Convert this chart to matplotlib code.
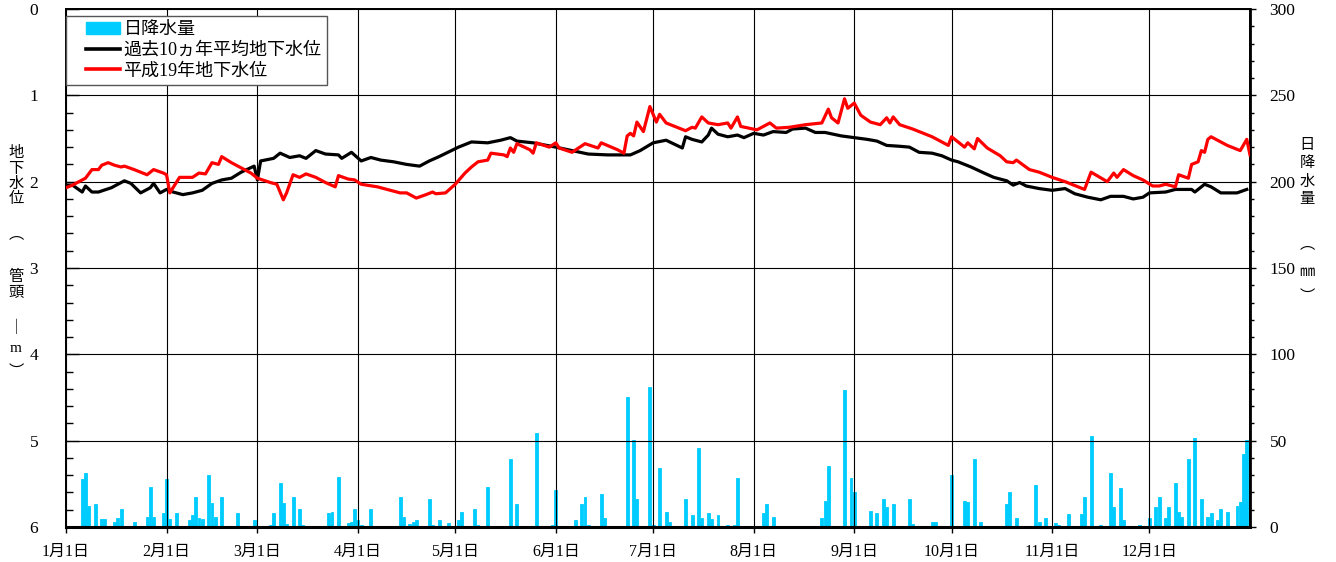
import matplotlib
matplotlib.use("Agg")
import matplotlib.pyplot as plt
from matplotlib.ticker import MultipleLocator
from matplotlib.patches import Patch
from matplotlib.lines import Line2D
from matplotlib.legend_handler import HandlerLine2D, HandlerPatch

FAM = ['Liberation Serif', 'Noto Sans CJK JP', 'DejaVu Sans']
plt.rcParams['font.family'] = FAM

# ---- data (day index from Jan 1 = 0) ----
month_days = [0, 31, 59, 90, 120, 151, 181, 212, 243, 273, 304, 334]
month_labels = ["1月1日", "2月1日", "3月1日", "4月1日", "5月1日", "6月1日",
                "7月1日", "8月1日", "9月1日", "10月1日", "11月1日", "12月1日"]

avg_days = [0, 2, 5, 6, 8, 10, 14, 18, 20, 23, 26, 27, 29, 31, 33, 36, 39, 42, 45, 48,
            51, 54, 58, 59, 60, 64, 66, 69, 72, 74, 77, 80, 84, 85, 88, 91, 94, 97, 101,
            105, 109, 112, 115, 121, 125, 130, 134, 137, 139, 144, 151, 156, 161, 167,
            172, 174, 177, 181, 185, 190, 191, 193, 196, 198, 199, 201, 204, 207, 209,
            212, 215, 218, 222, 224, 228, 231, 234, 239, 243, 247, 250, 253, 257, 260,
            263, 267, 270, 273, 275, 279, 283, 286, 290, 292, 294, 296, 300, 304, 308,
            311, 315, 319, 322, 326, 329, 332, 334, 339, 342, 347, 348, 351, 353, 356,
            361, 364]
avg_level = [2.04, 2.04, 2.12, 2.05, 2.12, 2.12, 2.07, 1.99, 2.02, 2.13, 2.07, 2.02, 2.13,
             2.09, 2.12, 2.15, 2.13, 2.10, 2.02, 1.98, 1.96, 1.89, 1.82, 1.98, 1.76, 1.73,
             1.67, 1.72, 1.70, 1.73, 1.64, 1.68, 1.69, 1.73, 1.66, 1.76, 1.72, 1.75, 1.77,
             1.80, 1.82, 1.76, 1.71, 1.60, 1.54, 1.55, 1.52, 1.49, 1.53, 1.55, 1.60, 1.64,
             1.68, 1.69, 1.69, 1.69, 1.64, 1.55, 1.52, 1.61, 1.48, 1.51, 1.54, 1.46, 1.38,
             1.45, 1.48, 1.46, 1.49, 1.44, 1.46, 1.42, 1.43, 1.39, 1.38, 1.43, 1.43, 1.47,
             1.49, 1.51, 1.53, 1.58, 1.59, 1.60, 1.66, 1.67, 1.70, 1.75, 1.77, 1.83, 1.90,
             1.95, 1.99, 2.04, 2.01, 2.05, 2.08, 2.10, 2.08, 2.14, 2.18, 2.21, 2.17, 2.17,
             2.20, 2.18, 2.13, 2.12, 2.09, 2.09, 2.12, 2.03, 2.06, 2.13, 2.13, 2.09]

h19_days = [0, 2, 4, 6, 8, 10, 11, 13, 15, 17, 18, 21, 25, 27, 30, 31, 32, 35, 39, 41,
            43, 45, 47, 48, 51, 53, 57, 59, 63, 65, 67, 68, 70, 72, 74, 77, 80, 83, 84,
            87, 89, 91, 96, 100, 103, 105, 108, 111, 113, 114, 117, 120, 123, 125, 127,
            130, 131, 135, 136, 137, 138, 139, 143, 144, 145, 149, 151, 152, 156, 160,
            164, 165, 170, 172, 173, 174, 175, 176, 178, 180, 182, 183, 185, 189, 191,
            193, 194, 196, 198, 201, 204, 205, 207, 208, 213, 217, 219, 223, 228, 233,
            235, 236, 238, 240, 241, 243, 245, 248, 249, 251, 253, 254, 255, 257, 261,
            263, 267, 270, 272, 273, 275, 277, 278, 280, 281, 284, 288, 290, 292, 293,
            297, 300, 304, 308, 312, 314, 316, 321, 323, 324, 326, 329, 332, 335, 337,
            339, 342, 343, 346, 347, 349, 350, 351, 352, 353, 358, 362, 364, 365]
h19_level = [2.07, 2.04, 2.00, 1.96, 1.86, 1.86, 1.81, 1.78, 1.81, 1.83, 1.82, 1.86, 1.92,
             1.86, 1.90, 1.92, 2.13, 1.95, 1.95, 1.90, 1.91, 1.78, 1.80, 1.71, 1.78, 1.82,
             1.90, 1.96, 2.01, 2.03, 2.21, 2.13, 1.92, 1.95, 1.91, 1.95, 2.01, 2.06, 1.93,
             1.97, 1.98, 2.03, 2.06, 2.10, 2.13, 2.13, 2.19, 2.15, 2.12, 2.14, 2.13, 2.03,
             1.90, 1.83, 1.77, 1.75, 1.67, 1.69, 1.71, 1.61, 1.66, 1.56, 1.63, 1.67, 1.55,
             1.60, 1.55, 1.61, 1.66, 1.56, 1.61, 1.55, 1.63, 1.67, 1.47, 1.44, 1.47, 1.31,
             1.42, 1.13, 1.31, 1.22, 1.32, 1.38, 1.41, 1.37, 1.38, 1.25, 1.32, 1.34, 1.32,
             1.38, 1.25, 1.36, 1.40, 1.32, 1.38, 1.37, 1.34, 1.32, 1.16, 1.26, 1.32, 1.04,
             1.15, 1.09, 1.23, 1.31, 1.32, 1.34, 1.26, 1.32, 1.25, 1.34, 1.39, 1.42, 1.48,
             1.54, 1.58, 1.48, 1.54, 1.60, 1.55, 1.62, 1.50, 1.61, 1.70, 1.77, 1.78, 1.75,
             1.86, 1.89, 1.95, 2.00, 2.06, 2.09, 1.89, 2.00, 1.90, 1.95, 1.86, 1.93, 1.98,
             2.05, 2.05, 2.03, 2.06, 1.92, 1.96, 1.80, 1.77, 1.64, 1.66, 1.51, 1.48, 1.58,
             1.64, 1.51, 1.69]

rain_days = [5, 6, 7, 9, 11, 12, 15, 16, 17, 21, 25, 26, 27, 30, 31, 32, 34, 38, 39, 40,
             41, 42, 44, 45, 46, 48, 53, 58, 63, 64, 66, 67, 68, 70, 72, 73, 81, 82, 84,
             87, 88, 89, 90, 91, 94, 103, 104, 106, 107, 108, 112, 113, 115, 118, 121,
             122, 126, 127, 130, 137, 139, 145, 150, 151, 157, 159, 160, 161, 165, 166,
             173, 175, 176, 180, 181, 183, 185, 186, 191, 193, 195, 196, 198, 199, 201,
             204, 206, 207, 215, 216, 218, 233, 234, 235, 240, 242, 243, 248, 250, 252,
             253, 255, 260, 261, 267, 268, 273, 277, 278, 280, 282, 290, 291, 293, 299,
             300, 302, 305, 306, 309, 313, 314, 316, 319, 322, 323, 325, 326, 331, 334,
             336, 337, 339, 340, 342, 343, 344, 346, 348, 350, 352, 353, 355, 356, 358,
             361, 362, 363, 364]
rain_mm = [27.6, 31.5, 12.3, 13.3, 4.4, 4.4, 3.1, 5.0, 10.2, 3.1, 6.0, 23.3, 6.0, 8.3,
           27.6, 4.4, 8.3, 4.0, 7.0, 17.2, 5.0, 4.4, 30.1, 14.1, 6.0, 17.2, 8.3, 4.0, 1.2,
           8.3, 25.3, 14.1, 1.7, 17.2, 10.2, 1.2, 8.3, 8.9, 29.1, 2.3, 3.1, 10.2, 4.0, 1.2,
           10.2, 17.2, 6.0, 1.7, 3.1, 4.0, 16.0, 1.2, 4.0, 2.3, 4.0, 8.9, 10.2, 1.2, 23.3,
           39.2, 13.3, 54.6, 1.2, 21.4, 4.0, 13.3, 17.2, 1.2, 19.1, 5.0, 75.1, 50.4, 16.0,
           81.3, 1.2, 34.4, 8.9, 3.1, 16.0, 7.0, 45.6, 5.0, 8.3, 4.4, 7.0, 1.2, 1.2, 28.6,
           8.3, 13.3, 6.0, 5.0, 15.2, 35.3, 79.3, 28.6, 20.5, 9.3, 8.3, 16.2, 11.6, 13.3,
           16.2, 1.7, 3.1, 3.1, 30.1, 15.2, 14.3, 39.2, 3.1, 13.3, 20.1, 5.0, 24.3, 3.1,
           5.0, 2.3, 1.2, 7.5, 7.5, 17.2, 52.7, 1.2, 31.5, 11.6, 22.4, 4.0, 1.2, 5.0, 11.6,
           17.2, 5.0, 11.6, 25.3, 8.9, 6.0, 39.2, 51.4, 16.2, 6.0, 8.3, 4.0, 10.2, 8.9,
           11.9, 14.3, 42.3, 50.4]

legend_labels = ["日降水量", "過去10ヵ年平均地下水位", "平成19年地下水位"]

# ---- figure ----
fig = plt.figure(figsize=(13.36, 5.62), dpi=100)
ax1 = fig.add_axes([66/1336, 35/562, 1184/1336, 518/562])
ax2 = ax1.twinx()

ax2.bar(rain_days, rain_mm, width=0.9, color='#00CCFF', edgecolor='#00CCFF',
        linewidth=0.6, zorder=2)
ax2.set_ylim(0, 300)

ax1.plot(avg_days, avg_level, color='black', lw=2.3, zorder=4)
ax1.plot(h19_days, h19_level, color='#FF0000', lw=2.3, zorder=5)
ax1.set_ylim(6, 0)
ax1.set_xlim(0, 365)
ax1.set_zorder(ax2.get_zorder() + 1)
ax1.patch.set_visible(False)

# ticks
ax1.set_xticks(month_days)
ax1.set_xticklabels(month_labels, fontsize=11.5)
ax1.tick_params(axis='x', direction='out', length=4, width=1, pad=8)
ax1.set_yticks(range(0, 7))
ax1.set_yticklabels([str(v) for v in range(0, 7)], fontsize=12.5)
ax1.yaxis.set_minor_locator(MultipleLocator(0.2))
ax1.tick_params(axis='y', which='major', direction='in', length=9, width=1, pad=20)
ax1.tick_params(axis='y', which='minor', direction='in', length=5, width=1)

ax2.set_yticks(range(0, 301, 50))
ax2.set_yticklabels([str(v) for v in range(0, 301, 50)], fontsize=12.5)
ax2.yaxis.set_minor_locator(MultipleLocator(10))
ax2.tick_params(axis='y', which='major', direction='out', length=4, width=1, pad=10)
ax2.tick_params(axis='y', which='minor', direction='out', length=3, width=1)

ax1.grid(True, which='major', axis='both', color='black', lw=0.8, zorder=1)

for ax in (ax1, ax2):
    for s in ax.spines.values():
        s.set_linewidth(1.3)
        s.set_color('black')
ax2.spines['bottom'].set_linewidth(2.2)
ax2.spines['right'].set_linewidth(2.0)

# legend
handles = [Patch(facecolor='#00CCFF', edgecolor='#00CCFF'),
           Line2D([], [], color='black', lw=2.6),
           Line2D([], [], color='#FF0000', lw=2.6)]
hmap = {Line2D: HandlerLine2D(xpad=0.78), Patch: HandlerPatch(xpad=0.78)}
leg = ax1.legend(handles, legend_labels, loc='upper left', handler_map=hmap,
                 bbox_to_anchor=(0.0, 1 - 7/518), borderaxespad=0,
                 prop={'family': FAM, 'size': 13}, fancybox=False, framealpha=1,
                 edgecolor='#555555', handlelength=2.68, labelspacing=0.2,
                 handletextpad=0.2, borderpad=0.3)
leg.get_frame().set_linewidth(1.0)

# vertical axis titles (stacked characters)
left_chars = ["地", "下", "水", "位", "︵", "管", "頭", "｜", "m", "︶"]
left_y = [153, 169, 184, 199, 235, 277, 294, 327, 349, 372]
for ch, yy in zip(left_chars, left_y):
    fig.text(16/1336, 1 - yy/562, ch, ha='center', va='center', fontsize=11,
             family=FAM)

right_chars = ["日", "降", "水", "量", "︵", "㎜", "︶"]
right_y = [145, 163, 182, 200, 245, 273, 297]
for ch, yy in zip(right_chars, right_y):
    fig.text(1307/1336, 1 - yy/562, ch, ha='center', va='center', fontsize=11,
             family=FAM)

fig.savefig("out.png", dpi=100)
